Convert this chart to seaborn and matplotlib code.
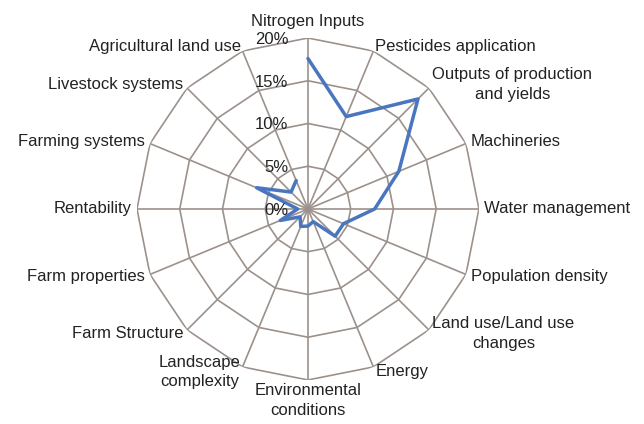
import numpy as np
import pandas as pd
import seaborn as sns
import matplotlib.pyplot as plt

sns.set_theme(style='white')
plt.rcParams['font.family'] = ['Liberation Sans', 'DejaVu Sans']

# -------------------------------
# data (%)
# -------------------------------
categories = ['Nitrogen Inputs', 'Pesticides application', 'Outputs of production\nand yields',
              'Machineries', 'Water management', 'Population density',
              'Land use/Land use\nchanges', 'Energy', 'Environmental\nconditions',
              'Landscape\ncomplexity', 'Farm Structure', 'Farm properties', 'Rentability',
              'Farming systems', 'Livestock systems', 'Agricultural land use']
values = [17.6, 11.7, 18.2, 11.5, 7.8, 4.5, 4.5, 1.6, 2.0, 2.2, 1.3, 3.5, 1.2, 6.5, 2.8, 3.6]
ticks = [0, 5, 10, 15, 20]
tick_labels = ['0%', '5%', '10%', '15%', '20%']

n = len(categories)
theta = np.linspace(0, 2 * np.pi, n, endpoint=False)
df = pd.DataFrame({'theta': np.append(theta, theta[0]), 'value': values + values[:1]})

# -------------------------------
# figure
# -------------------------------
fig = plt.figure(figsize=(6.44, 4.24), dpi=100)
ax = fig.add_axes([0.2127, 0.1038, 0.531, 0.8066], projection='polar')
ax.set_theta_zero_location('N')
ax.set_theta_direction(-1)
ax.set_ylim(0, 20)

grid_col = '#9c918b'
# polygon rings
for r in ticks[1:]:
    ax.plot(np.append(theta, theta[0]), [r] * (n + 1), color=grid_col, lw=1.2, zorder=1)
# spokes
for t in theta:
    ax.plot([t, t], [0, 20], color=grid_col, lw=1.2, zorder=1)

ax.grid(False)
ax.spines['polar'].set_visible(False)
ax.set_xticks([])
ax.set_yticks([])

sns.lineplot(data=df, x='theta', y='value', sort=False, color='#4a76c0', lw=2.5, ax=ax, zorder=3)
ax.set_xlabel('')
ax.set_ylabel('')

# radial tick labels
for r, lab in zip(ticks, tick_labels):
    ax.annotate(lab, xy=(0, r), xytext=(-14, -1), textcoords='offset points',
                ha='right', va='center', fontsize=12, color='#222222')

# category labels
for t, lab in zip(theta, categories):
    s, c = np.sin(t), np.cos(t)
    if abs(s) < 0.1:
        ha = 'center'
    elif s > 0:
        ha = 'left'
    else:
        ha = 'right'
    if c > 0.99:
        va, rr = 'bottom', 21.0
    elif c < -0.99:
        va, rr = 'top', 20.4
    else:
        va, rr = 'center', 20.6
    ax.text(t, rr, lab, ha=ha, va=va, fontsize=12, color='#222222',
            linespacing=1.35, multialignment='center')

fig.savefig('out.png', dpi=100)
